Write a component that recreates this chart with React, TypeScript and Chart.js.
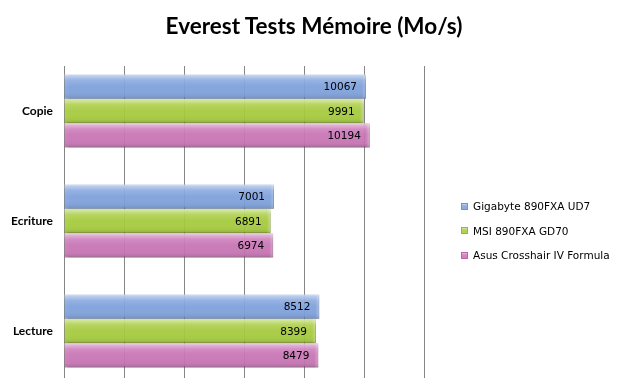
import React, { useEffect, useRef } from "react";
import { Chart, registerables } from "chart.js";

Chart.register(...registerables);

const titleText = "Everest Tests Mémoire (Mo/s)";
const categories = ["Copie", "Ecriture", "Lecture"];
const seriesNames = ["Gigabyte 890FXA UD7", "MSI 890FXA GD70", "Asus Crosshair IV Formula"];
const gigabyte = [10067, 7001, 8512];
const msi = [9991, 6891, 8399];
const asus = [10194, 6974, 8479];
const seriesColors = ["rgba(128,164,224,0.92)", "rgba(168,206,62,0.92)", "rgba(204,118,184,0.92)"];
const borderColors = ["#6F92CC", "#94B832", "#B866A5"];
const xMin = 0;
const xMax = 12000;
const xStep = 2000;

const seriesValues = [gigabyte, msi, asus];

const barStyle = {
  id: "barStyle",
  beforeDatasetsDraw(chart: any) {
    const ctx = chart.ctx;
    ctx.save();
    ctx.shadowColor = "rgba(0,0,0,0.28)";
    ctx.shadowBlur = 3;
    ctx.shadowOffsetX = 2;
    ctx.shadowOffsetY = 2;
  },
  afterDatasetsDraw(chart: any) {
    const ctx = chart.ctx;
    ctx.restore();
    chart.data.datasets.forEach((ds: any, di: number) => {
      const meta = chart.getDatasetMeta(di);
      meta.data.forEach((el: any, i: number) => {
        const p = el.getProps(["x", "y", "base", "height"], true);
        const top = p.y - p.height / 2;
        const g = ctx.createLinearGradient(0, top, 0, top + p.height);
        g.addColorStop(0, "rgba(255,255,255,0.55)");
        g.addColorStop(0.25, "rgba(255,255,255,0.12)");
        g.addColorStop(0.5, "rgba(255,255,255,0)");
        g.addColorStop(0.85, "rgba(0,0,0,0.03)");
        g.addColorStop(1, "rgba(0,0,0,0.15)");
        ctx.save();
        ctx.fillStyle = g;
        ctx.fillRect(p.base, top, p.x - p.base, p.height);
        const g2 = ctx.createLinearGradient(p.x - 4, 0, p.x, 0);
        g2.addColorStop(0, "rgba(255,255,255,0)");
        g2.addColorStop(1, "rgba(255,255,255,0.3)");
        ctx.fillStyle = g2;
        ctx.fillRect(p.x - 4, top, 4, p.height);
        ctx.fillStyle = "#000";
        ctx.font = "10.5px 'DejaVu Sans'";
        ctx.textAlign = "right";
        ctx.textBaseline = "middle";
        ctx.fillText(String(ds.data[i].x), p.x - 9, p.y + 1);
        ctx.restore();
      });
    });
  },
};

export default function App() {
  const canvasRef = useRef<HTMLCanvasElement | null>(null);

  useEffect(() => {
    const canvas = canvasRef.current;
    if (!canvas) return;
    const chart = new Chart(canvas, {
      type: "bar",
      data: {
        datasets: seriesNames.map((name, si) => ({
          label: name,
          data: seriesValues[si].map((v, i) => ({ x: v, y: i })),
          backgroundColor: seriesColors[si],
          borderColor: borderColors[si],
          borderWidth: 1,
          categoryPercentage: 0.664,
          barPercentage: 1,
        })),
      },
      options: {
        indexAxis: "y",
        responsive: false,
        animation: false,
        events: [],
        layout: { padding: { top: 66, right: 203, bottom: 0, left: 0 } },
        plugins: {
          legend: { display: false },
          tooltip: { enabled: false },
          title: { display: false },
        },
        scales: {
          x: {
            type: "linear",
            position: "bottom",
            min: xMin,
            max: xMax,
            ticks: { display: false, stepSize: xStep },
            grid: { color: "#858585", lineWidth: 1, drawTicks: false },
            border: { display: false },
            afterFit: (s: any) => {
              s.height = 0;
              s.paddingLeft = 0;
              s.paddingRight = 0;
            },
          },
          y: {
            type: "linear",
            reverse: true,
            offset: false,
            min: -0.409,
            max: 2.427,
            afterBuildTicks: (s: any) => {
              s.ticks = categories.map((_, i) => ({ value: i }));
            },
            ticks: {
              callback: (v: any) => categories[v as number] ?? "",
              color: "#000",
              font: { family: "Lato", size: 12, weight: "bold" },
              padding: 11,
            },
            grid: { display: false, drawTicks: false, offset: false },
            border: { display: true, color: "#858585", width: 1 },
            afterFit: (s: any) => {
              s.width = 64;
              s.paddingTop = 0;
              s.paddingBottom = 0;
            },
          },
        },
      },
      plugins: [barStyle],
    } as any);
    return () => chart.destroy();
  }, []);

  const legendTops = [206, 230.5, 255];

  return (
    <div style={{ position: "fixed", left: 0, top: 0, width: 627, height: 378, background: "#fff", overflow: "hidden" }}>
      <canvas ref={canvasRef} width={627} height={378} style={{ display: "block" }} />
      <div
        style={{
          position: "absolute",
          left: 0,
          top: 12,
          width: 628,
          textAlign: "center",
          fontFamily: "Lato",
          fontWeight: "bold",
          fontSize: 22.5,
          lineHeight: "28px",
          color: "#000",
        }}
      >
        {titleText}
      </div>
      {seriesNames.map((name, i) => (
        <div
          key={name}
          style={{
            position: "absolute",
            left: 461,
            top: legendTops[i] - 8,
            height: 16,
            display: "flex",
            alignItems: "center",
            fontFamily: "'DejaVu Sans'",
            fontSize: 10.5,
            color: "#000",
            whiteSpace: "nowrap",
          }}
        >
          <span
            style={{
              display: "inline-block",
              width: 7,
              height: 7,
              marginRight: 5,
              background: seriesColors[i],
              boxShadow: `inset 0 0 0 1px ${borderColors[i]}, inset 0 2px 2px rgba(255,255,255,0.5)`,
            }}
          />
          {name}
        </div>
      ))}
    </div>
  );
}
